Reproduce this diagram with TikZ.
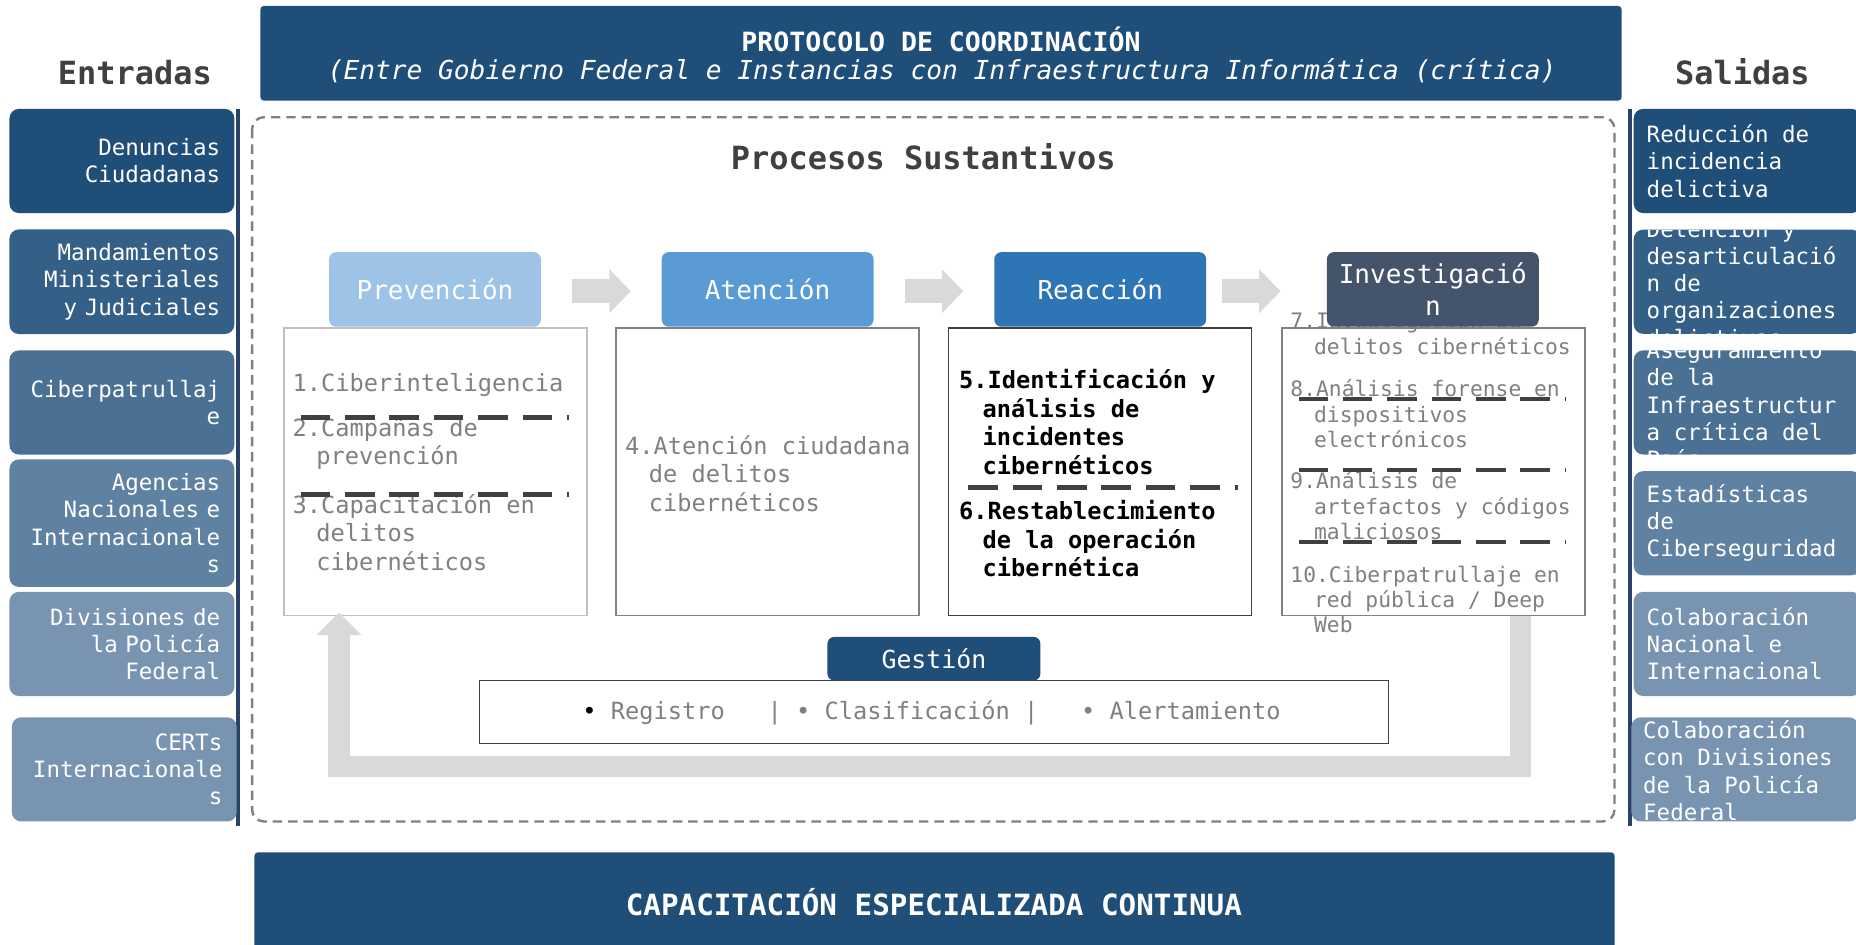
\documentclass[tikz,border=0pt]{standalone}
\usepackage{fontspec}
\setmainfont{DejaVu Sans Mono}[WordSpace={1,0,0}]
\usetikzlibrary{arrows.meta,calc}
\definecolor{navy}{RGB}{31,78,121}
\definecolor{ea}{RGB}{31,78,121}
\definecolor{eb}{RGB}{52,95,134}
\definecolor{ec}{RGB}{74,113,147}
\definecolor{ed}{RGB}{96,130,162}
\definecolor{ee}{RGB}{120,148,176}
\definecolor{prevc}{RGB}{157,195,230}
\definecolor{atenc}{RGB}{91,155,213}
\definecolor{reacc}{RGB}{46,117,182}
\definecolor{invc}{RGB}{68,84,106}
\definecolor{lgray}{RGB}{217,217,217}
\definecolor{mgray}{RGB}{191,191,191}
\definecolor{tgray}{RGB}{128,128,128}
\definecolor{dgray}{RGB}{64,64,64}
\definecolor{sepc}{RGB}{40,66,104}
\newcommand\fsz[2]{\fontsize{#1}{#2}\selectfont}
\begin{document}
\begin{tikzpicture}[x=1pt,y=-1pt,
  inbox/.style={rounded corners=8pt, text width=166pt, inner sep=12pt, minimum height=88pt, align=right, text=white, font=\fsz{19}{23}},
  outbox/.style={rounded corners=8pt, minimum width=192pt, minimum height=88pt, inner sep=0pt, anchor=west},
  outtext/.style={anchor=west, align=left, inner sep=0pt, text=white, font=\fsz{19}{23}},
  phasebox/.style={rounded corners=6pt, minimum width=179pt, minimum height=63pt, inner sep=0pt, text=white, font=\fsz{22}{27}, align=center},
  cbox/.style={minimum width=256pt, minimum height=243pt, inner sep=0pt, line width=1.2pt, fill=white},
  itemtxt/.style={anchor=west, align=left, inner sep=0pt, text=tgray, font=\fsz{20}{24}},
  invtxt/.style={anchor=west, align=left, inner sep=0pt, text=tgray, font=\fsz{18}{21.5}},
  reactxt/.style={anchor=west, align=left, inner sep=0pt, text=black, font=\bfseries\fsz{20}{24.3}},
  dashsep/.style={draw=dgray, line width=4pt, dash pattern=on 25pt off 12.5pt},
  flowarrow/.style={draw=lgray, line width=20pt, -{Triangle[width=36pt,length=18pt]}},
  fbarrow/.style={draw=lgray, line width=18pt, line join=miter, -{Triangle[width=37pt,length=19pt]}},
  hdr/.style={font=\bfseries\fsz{27}{32}, text=dgray, inner sep=0pt},
]
\useasboundingbox (0,0) rectangle (1568,798);
\fill[white] (0,0) rectangle (1568,798);

% headers
\node[hdr] (entr) at (114,61) {Entradas};
\node[hdr] (sal) at (1472,61) {Salidas};

% top banner
\node[fill=navy, rounded corners=3pt, minimum width=1150pt, minimum height=80pt, inner sep=0pt] (top) at (795,45) {};
\node[text=white, font=\bfseries\fsz{22.4}{26}, inner sep=0pt] (topa) at (795,33) {PROTOCOLO DE COORDINACIÓN};
\node[text=white, font=\itshape\fsz{22.1}{26}, inner sep=0pt] (topb) at (796,60) {(Entre Gobierno Federal e Instancias con Infraestructura Informática (crítica)};

% dashed process frame
\draw[draw=tgray, line width=2pt, dash pattern=on 8pt off 5pt, rounded corners=10pt] (213,99) rectangle (1364,694);
\node[hdr] (proc) at (780,132) {Procesos Sustantivos};

% separators
\draw[line width=3pt, sepc] (201,92) -- (201,698);
\draw[line width=3pt, sepc] (1377,92) -- (1377,698);

% inputs
\node[inbox, fill=ea] (in1) at (103,136) {Denuncias\\Ciudadanas};
\node[inbox, fill=eb] (in2) at (103,238) {Mandamientos\\Ministeriales\\y Judiciales};
\node[inbox, fill=ec] (in3) at (103,340) {Ciberpatrullaj\\e};
\node[inbox, fill=ed] (in4) at (103,442) {Agencias\\Nacionales e\\Internacionale\\s};
\node[inbox, fill=ee] (in5) at (103,544) {Divisiones de\\la Policía\\Federal};
\node[inbox, fill=ee] (in6) at (105,650) {CERTs\\Internacionale\\s};

% outputs
\node[outbox, fill=ea] (out1) at (1380,136) {};
\node[outbox, fill=eb] (out2) at (1380,238) {};
\node[outbox, fill=ec] (out3) at (1380,340) {};
\node[outbox, fill=ed] (out4) at (1380,442) {};
\node[outbox, fill=ee] (out5) at (1380,544) {};
\node[outbox, fill=ee] (out6) at (1378,650) {};
\begin{scope}
\clip[rounded corners=8pt] (out1.north west) rectangle (out1.south east);
\node[outtext] (o1t) at ([xshift=11pt]out1.west) {Reducción de\\incidencia\\delictiva};
\end{scope}
\begin{scope}
\clip[rounded corners=8pt] (out2.north west) rectangle (out2.south east);
\node[outtext] (o2t) at ([xshift=11pt,yshift=-1pt]out2.west) {Detención y\\desarticulació\\n de\\organizaciones\\delictivas};
\end{scope}
\begin{scope}
\clip[rounded corners=8pt] (out3.north west) rectangle (out3.south east);
\node[outtext] (o3t) at ([xshift=11pt,yshift=-2pt]out3.west) {Aseguramiento\\de la\\Infraestructur\\a crítica del\\País};
\end{scope}
\node[outtext] (o4t) at ([xshift=11pt]out4.west) {Estadísticas\\de\\Ciberseguridad};
\node[outtext] (o5t) at ([xshift=11pt]out5.west) {Colaboración\\Nacional e\\Internacional};
\node[outtext] (o6t) at ([xshift=10pt,yshift=-1pt]out6.west) {Colaboración\\con Divisiones\\de la Policía\\Federal};

% content boxes
\node[cbox, draw=mgray] (c1) at (368,398.5) {};
\node[cbox, draw=tgray] (c2) at (648.5,398.5) {};
\node[cbox, draw=dgray] (c3) at (929.5,398.5) {};
\node[cbox, draw=tgray] (c4) at (1211,398.5) {};

% Prevencion items
\node[itemtxt] (t1) at (247,325) {1.Ciberinteligencia};
\node[itemtxt] (t2) at (247,375) {2.Campañas de\\\hspace*{20pt}prevención};
\node[itemtxt] (t3) at (247,450) {3.Capacitación en\\\hspace*{20pt}delitos\\\hspace*{20pt}cibernéticos};
\draw[dashsep] (254,353) -- (481,353);
\draw[dashsep] (254,418) -- (481,418);

% Atencion
\node[itemtxt] (t4) at (528,400) {4.Atención ciudadana\\\hspace*{20pt}de delitos\\\hspace*{20pt}cibernéticos};

% Reaccion
\node[reactxt] (t5) at (810,356.5) {5.Identificación y\\\hspace*{20pt}análisis de\\\hspace*{20pt}incidentes\\\hspace*{20pt}cibernéticos};
\draw[dashsep] (818,412) -- (1046,412);
\node[reactxt] (t6) at (810,455) {6.Restablecimiento\\\hspace*{20pt}de la operación\\\hspace*{20pt}cibernética};

% Investigacion
\node[invtxt] (t7) at (1090,281.5) {7.Investigación de\\\hspace*{20pt}delitos cibernéticos};
\node[invtxt] (t8) at (1090,349.5) {8.Análisis forense en\\\hspace*{20pt}dispositivos\\\hspace*{20pt}electrónicos};
\node[invtxt] (t9) at (1090,427.5) {9.Análisis de\\\hspace*{20pt}artefactos y códigos\\\hspace*{20pt}maliciosos};
\node[invtxt] (t10) at (1090,506.5) {10.Ciberpatrullaje en\\\hspace*{20pt}red pública / Deep\\\hspace*{20pt}Web};
\draw[dashsep] (1097,337) -- (1323,337);
\draw[dashsep] (1097,397) -- (1323,397);
\draw[dashsep] (1097,458) -- (1323,458);

% phase headers
\node[phasebox, fill=prevc] (h1) at (367.5,244.5) {Prevención};
\node[phasebox, fill=atenc] (h2) at (648.5,244.5) {Atención};
\node[phasebox, fill=reacc] (h3) at (929.5,244.5) {Reacción};
\node[phasebox, fill=invc] (h4) at (1210.5,244.5) {Investigació\\n};

% flow arrows
\draw[flowarrow] ($(h1.east)+(26,1.5)$) -- ($(h2.west)+(-26,1.5)$);
\draw[flowarrow] ($(h2.east)+(26,1.5)$) -- ($(h3.west)+(-26,1.5)$);
\draw[flowarrow] ($(h3.east)+(13,1.5)$) -- ($(h4.west)+(-39,1.5)$);

% feedback arrow
\coordinate (fbs) at ($(c4.south east)+(-55,0)$);
\coordinate (fbe) at ($(c1.south west)+(47,-3)$);
\draw[fbarrow] (fbs) -- ($(fbs)+(0,127)$) -| (fbe);

% gestion
\node[draw=dgray, line width=1.3pt, fill=white, minimum width=768pt, minimum height=53pt, inner sep=0pt] (gbox) at (789,601.5) {};
\node[font=\fsz{20}{24}, text=tgray, inner sep=0pt] (gtxt) at (787,602) {\textcolor{black}{•}~Registro~~~|~•~Clasificación~|~~~•~Alertamiento};
\node[fill=navy, rounded corners=6pt, minimum width=180pt, minimum height=37pt, inner sep=0pt, text=white, font=\fsz{21}{25}] (gh) at (789,556.5) {Gestión};

% bottom banner
\node[fill=navy, rounded corners=3pt, minimum width=1149pt, minimum height=86pt, inner sep=0pt] (bot) at (789.5,763) {};
\node[text=white, font=\bfseries\fsz{24.7}{28}, inner sep=0pt] (bott) at (789,762) {CAPACITACIÓN ESPECIALIZADA CONTINUA};
\end{tikzpicture}
\end{document}
